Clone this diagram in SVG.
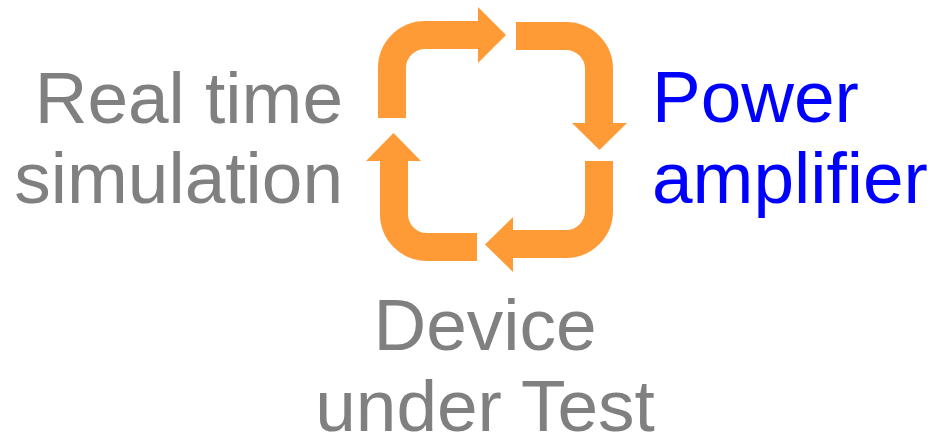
<svg xmlns="http://www.w3.org/2000/svg" width="936" height="436" viewBox="0 0 936 436">
  <style>
    .lbl { font-family: "Liberation Sans", Arial, sans-serif; font-size: 73px; }
    .grey { fill: #808080; }
    .blue { fill: #0000FF; }
    .shaft { fill: none; stroke: #FF9B37; stroke-width: 28; stroke-linecap: butt; stroke-linejoin: miter; }
    .head { fill: #FF9B37; }
  </style>
  <rect width="936" height="436" fill="#FFFFFF"/>

  <g id="real-time-simulation">
    <text class="lbl grey" x="343" y="123" text-anchor="end">Real time</text>
    <text class="lbl grey" x="343" y="203" text-anchor="end">simulation</text>
  </g>

  <g id="power-amplifier">
    <text class="lbl blue" x="652" y="122">Power</text>
    <text class="lbl blue" x="652" y="203">amplifier</text>
  </g>

  <g id="device-under-test">
    <text class="lbl grey" x="485" y="350" text-anchor="middle">Device</text>
    <text class="lbl grey" x="485" y="431" text-anchor="middle">under Test</text>
  </g>

  <g id="connectors">
    <!-- simulation to amplifier -->
    <path class="shaft" d="M392,118 V68 A33,33 0 0 1 425,35 H479"/>
    <polygon class="head" points="478,7 506,35 478,63"/>
    <!-- amplifier to device -->
    <path class="shaft" d="M516,36 H566 A33,33 0 0 1 599,69 V124"/>
    <polygon class="head" points="572,123 599.5,150 627,123"/>
    <!-- device to simulation (lower right) -->
    <path class="shaft" d="M599,161 V211 A33,33 0 0 1 566,244 H512"/>
    <polygon class="head" points="513,217 485,244.5 513,272"/>
    <!-- device back to simulation (lower left) -->
    <path class="shaft" d="M477,247 H427 A33,33 0 0 1 394,214 V160"/>
    <polygon class="head" points="366,161 393.5,133 421,161"/>
  </g>
</svg>
